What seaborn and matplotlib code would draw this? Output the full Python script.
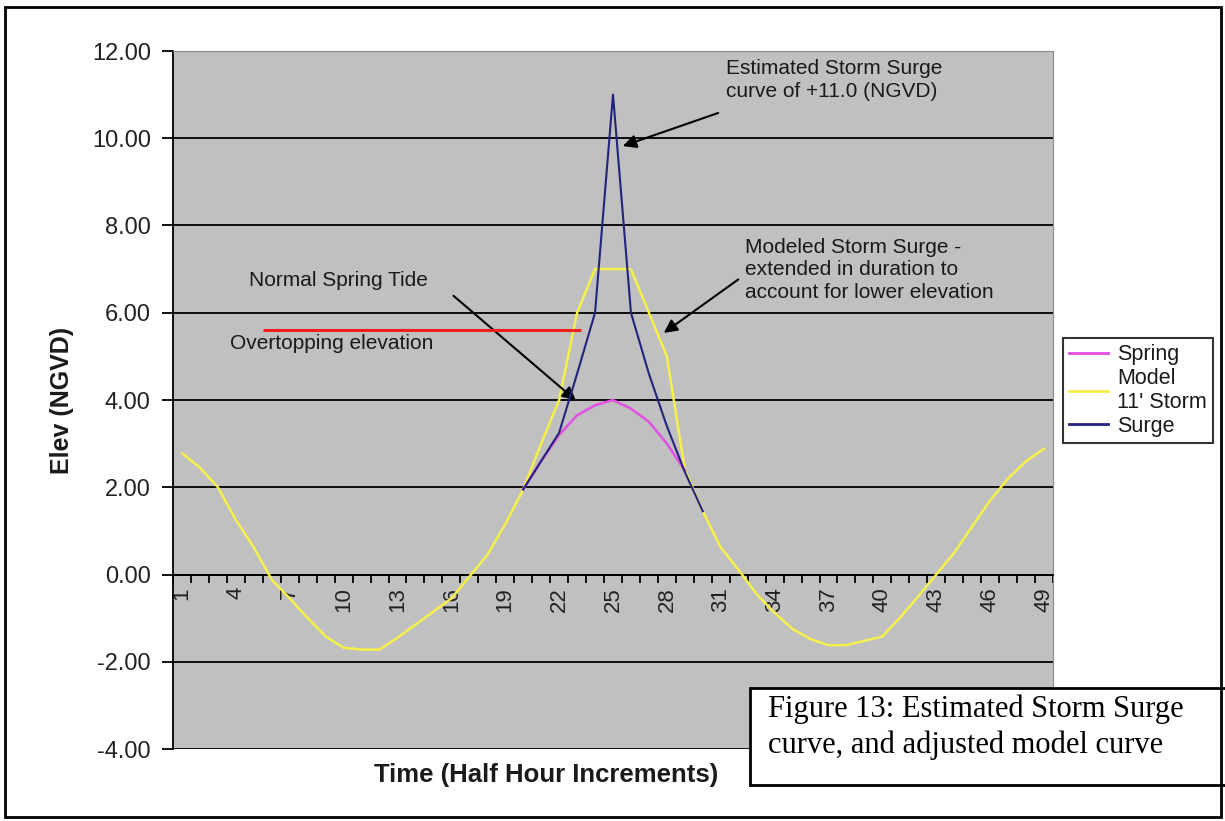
import numpy as np
import pandas as pd
import matplotlib
matplotlib.use("Agg")
import matplotlib.pyplot as plt
from matplotlib.patches import Rectangle
from matplotlib.lines import Line2D
import seaborn as sns

# data (half hour steps 1..49)
time_steps = list(range(1, 50))
model_storm = [2.78, 2.45, 2.00, 1.25, 0.62, -0.12, -0.55, -1.00, -1.42, -1.68,
               -1.72, -1.72, -1.45, -1.15, -0.85, -0.55, -0.05, 0.45, 1.15, 1.95,
               3.00, 4.00, 6.00, 7.00, 7.00, 7.00, 6.00, 5.00, 2.40, 1.45,
               0.62, 0.10, -0.45, -0.88, -1.25, -1.48, -1.62, -1.62, -1.52, -1.42,
               -0.98, -0.50, 0.00, 0.50, 1.10, 1.70, 2.20, 2.60, 2.88]
spring_steps = list(range(20, 30))
spring_tide = [1.95, 2.60, 3.20, 3.65, 3.88, 4.00, 3.80, 3.50, 3.00, 2.38]
surge_steps = list(range(20, 31))
surge = [1.95, 2.60, 3.25, 4.60, 6.00, 11.00, 6.00, 4.60, 3.40, 2.35, 1.45]
overtop_x = [5.5, 23.2]
overtop_level = 5.6
tick_labels = [str(t) for t in range(1, 50, 3)]

df_model = pd.DataFrame({"t": time_steps, "elev": model_storm})
df_spring = pd.DataFrame({"t": spring_steps, "elev": spring_tide})
df_surge = pd.DataFrame({"t": surge_steps, "elev": surge})

plt.rcParams["font.family"] = ["Liberation Sans", "DejaVu Sans"]

W, H = 1225, 821
fig = plt.figure(figsize=(W / 100, H / 100), dpi=100)
ax = fig.add_axes([173 / W, 1 - 749 / H, 880 / W, 698 / H])
ax.set_facecolor("#c0c0c0")

c_model = "#f5f04a"
c_spring = "#e24fe2"
c_surge = "#23237e"

sns.lineplot(data=df_model, x="t", y="elev", color=c_model, lw=1.8, ax=ax, legend=False, zorder=3)
sns.lineplot(data=df_spring, x="t", y="elev", color=c_spring, lw=1.8, ax=ax, legend=False, zorder=4)
sns.lineplot(data=df_surge, x="t", y="elev", color=c_surge, lw=1.5, ax=ax, legend=False, zorder=5)
ax.hlines(overtop_level, overtop_x[0], overtop_x[1], color="#ee2020", lw=2.2, zorder=4)

ax.set_xlim(0.5, 49.5)
ax.set_ylim(-4, 12)
ax.set_yticks(np.arange(-4, 13, 2))
ax.set_yticklabels([f"{v:.2f}" for v in np.arange(-4, 13, 2)])
ax.set_xticks(range(1, 50, 3))
ax.set_xticklabels(tick_labels)
ax.set_xticks(np.arange(0.5, 50, 1), minor=True)
ax.tick_params(axis="x", which="major", length=0, pad=9, labelsize=16,
               labelrotation=90, labelcolor="#222222")
ax.tick_params(axis="x", which="minor", length=6, width=1.3, direction="out", color="black")
ax.tick_params(axis="y", length=8, width=1.3, color="black", pad=8, labelsize=17,
               labelcolor="#222222")
ax.set_xlabel("")
ax.set_ylabel("")

ax.yaxis.grid(True, color="black", lw=1.3)
ax.set_axisbelow(True)
gl = ax.get_ygridlines()
gl[-1].set_visible(False)
ax.spines["bottom"].set_position(("data", 0))
ax.spines["bottom"].set_linewidth(1.3)
ax.spines["left"].set_linewidth(1.3)
ax.spines["top"].set_color("#8a8a8a")
ax.spines["right"].set_color("#8a8a8a")

# annotations
ax.text(31.29, 11.82, "Estimated Storm Surge\ncurve of +11.0 (NGVD)", fontsize=15,
        va="top", ha="left", linespacing=1.25, color="#1a1a1a")
ax.annotate("", xy=(25.4, 9.8), xytext=(31.0, 10.6),
            arrowprops=dict(arrowstyle="-|>", color="black", lw=1.5, mutation_scale=20))
ax.text(32.35, 7.72, "Modeled Storm Surge -\nextended in duration to\naccount for lower elevation",
        fontsize=15, va="top", ha="left", linespacing=1.25, color="#1a1a1a")
ax.annotate("", xy=(27.7, 5.5), xytext=(32.1, 6.8),
            arrowprops=dict(arrowstyle="-|>", color="black", lw=1.5, mutation_scale=20))
ax.text(4.73, 6.73, "Normal Spring Tide", fontsize=15, va="center", ha="left", color="#1a1a1a")
ax.annotate("", xy=(23.05, 3.95), xytext=(16.0, 6.43),
            arrowprops=dict(arrowstyle="-|>", color="black", lw=1.5, mutation_scale=20))
ax.text(3.67, 5.3, "Overtopping elevation", fontsize=15, va="center", ha="left", color="#1a1a1a")

# legend
handles = [Line2D([], [], color=c_spring, lw=2),
           Line2D([], [], color=c_model, lw=2),
           Line2D([], [], color=c_surge, lw=2)]
leg = ax.legend(handles, ["Spring", "Model\n11' Storm", "Surge"], loc="upper left",
                bbox_to_anchor=(1063 / W, 1 - 338 / H), bbox_transform=fig.transFigure,
                borderaxespad=0, frameon=True, fancybox=False, fontsize=15.5,
                handlelength=1.8, handletextpad=0.4, labelspacing=0.12, borderpad=0.3)
leg.get_frame().set_edgecolor("black")
leg.get_frame().set_linewidth(1.5)
for t in leg.get_texts():
    t.set_color("#1a1a1a")

# axis titles
fig.text(62 / W, 1 - 400 / H, "Elev (NGVD)", rotation=90, fontsize=18, fontweight="bold",
         ha="center", va="center", color="#1a1a1a")
fig.text(546 / W, 1 - 775 / H, "Time (Half Hour Increments)", fontsize=18.5, fontweight="bold",
         ha="center", va="center", color="#1a1a1a")

# figure caption box
fig.add_artist(Rectangle((750 / W, 1 - 785 / H), 480 / W, 97 / H, transform=fig.transFigure,
                         facecolor="white", edgecolor="black", lw=2, zorder=10))
fig.text(768 / W, 1 - 694 / H, "Figure 13: Estimated Storm Surge\ncurve, and adjusted model curve",
         fontsize=22, family="Liberation Serif", va="top", ha="left", linespacing=1.32, zorder=11)

# outer border
fig.add_artist(Rectangle((5 / W, 1 - 817 / H), 1216 / W, 810 / H, transform=fig.transFigure,
                         facecolor="none", edgecolor="black", lw=2, zorder=12))

fig.savefig("out.png", dpi=100)
